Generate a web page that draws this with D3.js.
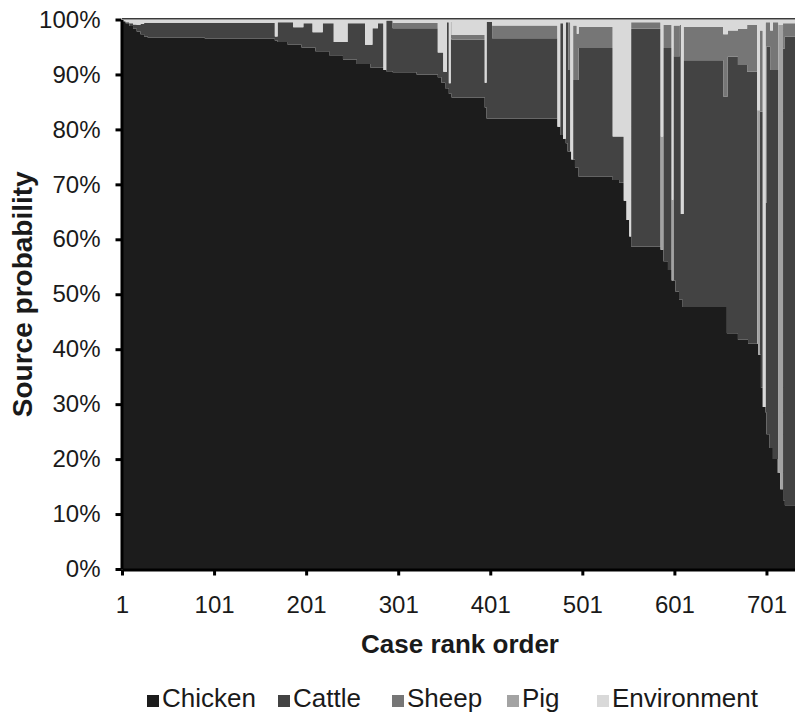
<!DOCTYPE html>
<html>
<head>
<meta charset="utf-8">
<title>Source probability by case rank</title>
<script src="https://d3js.org/d3.v7.min.js"></script>
<style>
  body { margin: 0; background: #fff; }
  text { font-family: "Liberation Sans", Arial, sans-serif; fill: #1a1a1a; }
</style>
</head>
<body>
<script>
// series names and colours (stack order, bottom to top)
var seriesNames = ["Chicken", "Cattle", "Sheep", "Pig", "Environment"];
var seriesColors = ["#1c1c1c", "#434343", "#767676", "#a3a3a3", "#d9d9d9"];

// x tick labels (case rank) and y ticks (percent)
var xTicks = [1, 101, 201, 301, 401, 501, 601, 701];
var yTicks = [0, 10, 20, 30, 40, 50, 60, 70, 80, 90, 100];
var lastCase = 732;

// runs of cases with the same source probabilities
// runStart = first case of each run
var runStart = [1, 5, 9, 13, 17, 21, 25, 29, 91, 167, 170, 181, 187, 196, 198, 208, 211, 219, 226, 231,
  241, 246, 256, 265, 271, 273, 279, 285, 288, 295, 321, 344, 348, 350, 352, 354, 356, 358, 359, 395,
  397, 403, 474, 477, 480, 483, 485, 486, 488, 489, 491, 493, 495, 497, 534, 541, 546, 549, 552, 554,
  586, 589, 594, 598, 600, 602, 606, 607, 608, 610, 611, 654, 658, 659, 670, 680, 681, 691, 692, 694,
  695, 697, 700, 701, 704, 705, 708, 713, 714, 716, 719, 721];
var chicken = [99.7, 99.3, 98.8, 98.3, 97.8, 97.3, 96.9, 96.7, 96.5, 96.2, 95.9, 95.4, 95.4, 94.9, 94.9, 94.9, 94.2, 94.2, 93.5, 93.5,
  92.7, 92.7, 91.9, 91.9, 91.2, 91.2, 91.2, 90.8, 90.6, 90.4, 90.0, 89.5, 88.5, 88.5, 87.5, 87.5, 86.5, 86.5, 85.8, 84.0,
  82.0, 82.0, 80.5, 79.0, 78.3, 77.5, 76.0, 76.0, 76.0, 74.5, 74.5, 73.0, 73.0, 71.4, 70.8, 70.3, 67.0, 63.5, 60.5, 58.7,
  58.1, 56.0, 54.4, 52.5, 52.5, 50.5, 49.0, 49.0, 49.0, 47.7, 47.7, 47.7, 42.9, 42.9, 41.7, 41.7, 41.0, 41.0, 39.0, 39.0,
  33.0, 29.5, 28.5, 24.5, 22.0, 22.0, 20.0, 17.5, 17.5, 14.5, 12.5, 11.6];
var cattle = [0, 0.2, 0.5, 0.8, 1.2, 1.9, 2.5, 2.7, 2.9, 0.7, 3.6, 4.1, 3.2, 3.7, 4.4, 2.8, 3.5, 5.1, 5.8, 2.4,
  3.2, 6.6, 7.4, 3.5, 4.2, 7.2, 8.1, 0, 9.2, 8.0, 8.4, 4.5, 5.5, 2.0, 3.0, 12.0, 1.9, 10.1, 10.5, 4.5,
  17.6, 14.6, 0, 20.3, 0, 22.0, 23.5, 14.8, 0, 0, 14.5, 16.0, 16.0, 23.4, 7.9, 8.4, 0, 0, 0, 39.6,
  0, 38.8, 40.4, 0, 40.8, 42.8, 44.3, 50.0, 15.6, 16.9, 44.9, 38.3, 43.1, 50.3, 50.0, 48.8, 49.5, 0, 0, 44.2,
  50.2, 0, 38.1, 70.6, 73.1, 68.8, 70.8, 73.3, 0, 0, 82.2, 85.3];
var sheep = [0, 0, 0, 0, 0, 0, 0, 0, 0, 0, 0, 0, 0, 0, 0, 0, 0, 0, 0, 0,
  0, 0, 0, 0, 0, 0, 0, 0, 0, 1.0, 1.0, 0, 0, 0, 0, 0, 0, 3.0, 0.9, 0,
  0, 2.3, 0, 0, 0, 0, 0, 8.7, 0, 0, 9.9, 9.9, 8.4, 3.9, 0, 0, 0, 0, 0, 1.2,
  0, 4.2, 4.2, 0, 5.6, 5.6, 5.6, 0, 0, 0, 6.1, 11.3, 11.3, 4.8, 6.6, 8.5, 8.5, 0, 0, 14.8,
  14.8, 0, 32.9, 4.4, 4.4, 7.2, 8.7, 8.7, 0, 0, 4.6, 2.4];
var pig = [0, 0, 0, 0, 0, 0, 0, 0, 0, 0, 0, 0, 0, 0, 0, 0, 0, 0, 0, 0,
  0, 0, 0, 0, 0, 0, 0, 0, 0, 0, 0, 0, 0, 0, 0, 0, 0, 0, 0, 0,
  0, 0, 0, 0, 0, 0, 0, 0, 0, 0, 0, 0, 0, 0, 0, 0, 0, 0, 0, 0,
  20.6, 0, 0, 14.7, 0, 0, 0, 0, 0, 0, 0, 0, 0, 0, 0, 0, 0, 42.5, 44.5, 0,
  0, 0, 0, 0, 0, 0, 0, 0, 81.5, 84.5, 0, 0];
var environment = [0.3, 0.5, 0.7, 0.9, 1.0, 0.8, 0.6, 0.6, 0.6, 3.1, 0.5, 0.5, 1.4, 1.4, 0.7, 2.3, 2.3, 0.7, 0.7, 4.1,
  4.1, 0.7, 0.7, 4.6, 4.6, 1.6, 0.7, 9.2, 0.2, 0.6, 0.6, 6.0, 6.0, 9.5, 9.5, 0.5, 11.6, 0.4, 2.8, 11.5,
  0.4, 1.1, 19.5, 0.7, 21.7, 0.5, 0.5, 0.5, 24.0, 25.5, 1.1, 1.1, 2.6, 1.3, 21.3, 21.3, 33.0, 36.5, 39.5, 0.5,
  21.3, 1.0, 1.0, 32.8, 1.1, 1.1, 1.1, 1.0, 35.4, 35.4, 1.3, 2.7, 2.7, 2.0, 1.7, 1.0, 1.0, 16.5, 16.5, 2.0,
  2.0, 70.5, 0.5, 0.5, 0.5, 2.0, 0.5, 0.5, 1.0, 1.0, 0.7, 0.7];

var width = 795, height = 716;
var margin = { left: 122, right: 0, top: 19.5, bottom: 147 };

var svg = d3.select("body").append("svg")
  .attr("width", width)
  .attr("height", height);

var x = d3.scaleLinear().domain([1, lastCase]).range([margin.left, width - margin.right]);
var y = d3.scaleLinear().domain([0, 100]).range([height - margin.bottom, margin.top]);

// table for the stack, one row per run plus a closing row at the last case
var rows = runStart.map(function (s, i) {
  return { start: s, Chicken: chicken[i], Cattle: cattle[i], Sheep: sheep[i], Pig: pig[i], Environment: environment[i] };
});
var endRow = Object.assign({}, rows[rows.length - 1], { start: lastCase });
rows.push(endRow);

var layers = d3.stack().keys(seriesNames)(rows);

var area = d3.area()
  .curve(d3.curveStepAfter)
  .x(function (d) { return x(d.data.start); })
  .y0(function (d) { return y(d[0]); })
  .y1(function (d) { return y(d[1]); });

svg.append("g").selectAll("path")
  .data(layers)
  .enter()
  .append("path")
  .attr("d", area)
  .attr("fill", function (d, i) { return seriesColors[i]; });

// thin line along the top of the plot
svg.append("line")
  .attr("x1", x(1)).attr("x2", x(lastCase))
  .attr("y1", y(100) - 0.8).attr("y2", y(100) - 0.8)
  .attr("stroke", "#3a3a3a").attr("stroke-width", 1.5);

// y axis
var yAxis = svg.append("g")
  .attr("transform", "translate(" + (margin.left - 0.5) + ",0)")
  .call(d3.axisLeft(y).tickValues(yTicks).tickFormat(function (d) { return d + "%"; })
    .tickSize(6).tickSizeOuter(0).tickPadding(15));
yAxis.select(".domain").attr("stroke", "#000").attr("stroke-width", 3);
yAxis.selectAll(".tick line").attr("stroke", "#000").attr("stroke-width", 3);
yAxis.selectAll("text").style("font-size", "24px").attr("fill", "#1a1a1a");

// x axis
var xAxis = svg.append("g")
  .attr("transform", "translate(0," + (height - margin.bottom + 0.5) + ")")
  .call(d3.axisBottom(x).tickValues(xTicks).tickSize(6).tickSizeOuter(0).tickPadding(20));
xAxis.select(".domain").attr("stroke", "#000").attr("stroke-width", 3);
xAxis.selectAll(".tick line").attr("stroke", "#000").attr("stroke-width", 3);
xAxis.selectAll("text").style("font-size", "24px").attr("fill", "#1a1a1a");

// axis titles
svg.append("text")
  .attr("x", 460).attr("y", 653)
  .attr("text-anchor", "middle")
  .style("font-size", "26px").style("font-weight", "bold")
  .text("Case rank order");

svg.append("text")
  .attr("transform", "translate(32," + ((y(0) + y(100)) / 2) + ") rotate(-90)")
  .attr("text-anchor", "middle")
  .style("font-size", "28px").style("font-weight", "bold")
  .text("Source probability");

// legend
var legendX = [147, 278, 392, 507, 597];
var legend = svg.append("g").selectAll("g")
  .data(seriesNames)
  .enter()
  .append("g")
  .attr("transform", function (d, i) { return "translate(" + legendX[i] + ",707)"; });
legend.append("rect")
  .attr("x", 0).attr("y", -12)
  .attr("width", 12).attr("height", 12)
  .attr("fill", function (d, i) { return seriesColors[i]; });
legend.append("text")
  .attr("x", 15).attr("y", 0)
  .style("font-size", "26px")
  .text(function (d) { return d; });
</script>
</body>
</html>
